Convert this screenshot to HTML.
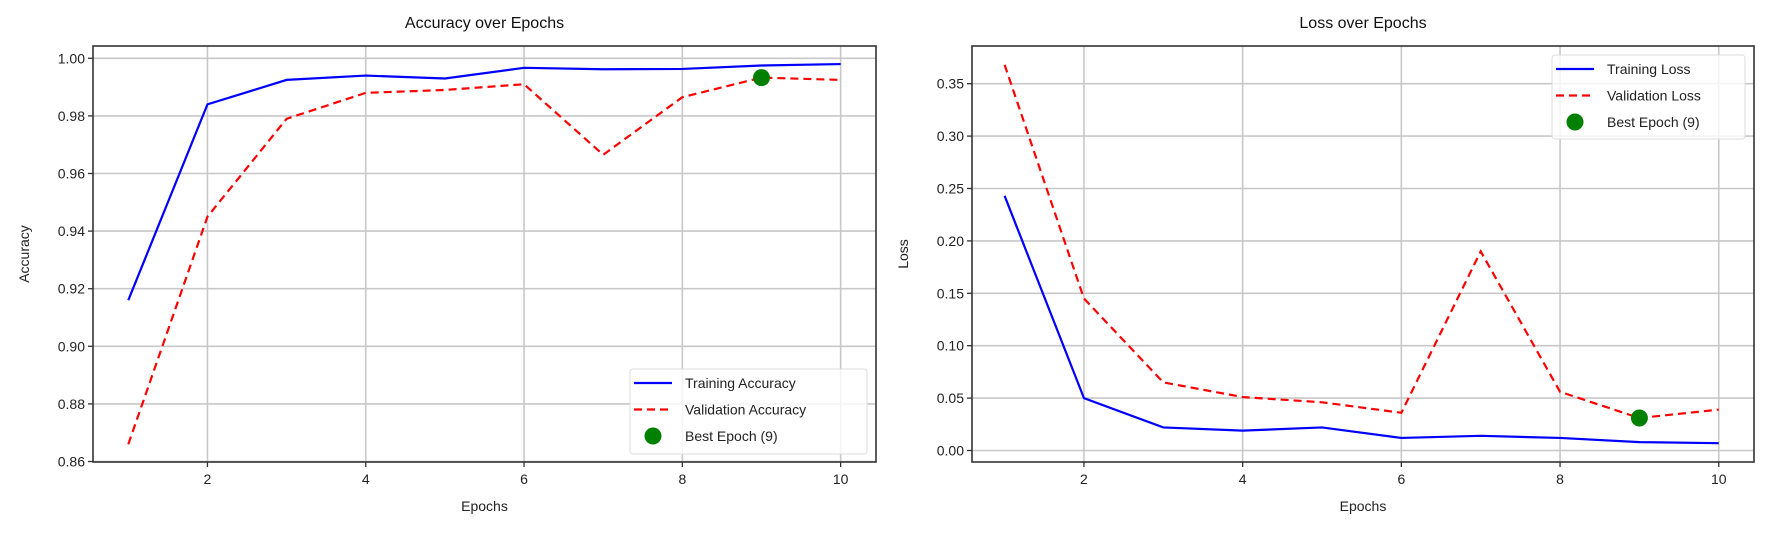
<!DOCTYPE html>
<html><head><meta charset="utf-8"><style>
html,body{margin:0;padding:0;background:#fff;width:1772px;height:534px;overflow:hidden}
svg{display:block;font-family:"Liberation Sans","DejaVu Sans",sans-serif}
</style></head><body>
<svg id="chart" width="1772" height="534" xmlns="http://www.w3.org/2000/svg"></svg>
<script>
const epochs = [1,2,3,4,5,6,7,8,9,10];
const trainAcc = [0.916,0.984,0.9925,0.994,0.993,0.9967,0.9962,0.9963,0.9975,0.998];
const valAcc = [0.866,0.945,0.979,0.988,0.989,0.991,0.9665,0.9865,0.9933,0.9925];
const trainLoss = [0.243,0.050,0.022,0.019,0.022,0.012,0.014,0.012,0.008,0.007];
const valLoss = [0.368,0.145,0.065,0.051,0.046,0.036,0.190,0.056,0.031,0.039];
const bestEpoch = 9;
const xTicks = [2,4,6,8,10];
const accTicks = [0.86,0.88,0.90,0.92,0.94,0.96,0.98,1.00];
const lossTicks = [0.00,0.05,0.10,0.15,0.20,0.25,0.30,0.35];

const svg = document.getElementById('chart');
const NS = 'http://www.w3.org/2000/svg';
function mk(tag, attrs, parent){const e=document.createElementNS(NS,tag);for(const k in attrs)e.setAttribute(k,attrs[k]);(parent||svg).appendChild(e);return e;}

function panel(cfg){
  const g = mk('g',{});
  
  
  const X = v => cfg.x1 + (v-1)*cfg.xs;
  const Y = v => cfg.y0 + (cfg.v0 - v)*cfg.ys;
  xTicks.forEach(t=>{
    const l = mk('line',{x1:X(t),x2:X(t),y1:cfg.top,y2:cfg.bot,stroke:'#c8c8c8','stroke-width':1.6},g);
    
    
  });
  cfg.yTicks.forEach(t=>{
    const l = mk('line',{x1:cfg.left,x2:cfg.right,y1:Y(t),y2:Y(t),stroke:'#c8c8c8','stroke-width':1.6},g);
    
    
  });
  const ptsT = epochs.map((e,i)=>X(e)+','+Y(cfg.train[i])).join(' ');
  const pt = mk('polyline',{points:ptsT,fill:'none',stroke:'#0000ff','stroke-width':2.2},g);
  
  
  const ptsV = epochs.map((e,i)=>X(e)+','+Y(cfg.val[i])).join(' ');
  const pv = mk('polyline',{points:ptsV,fill:'none',stroke:'#ff0000','stroke-width':2.2,'stroke-dasharray':'8,5'},g);
  
  
  const bi = epochs.indexOf(bestEpoch);
  const bm = mk('circle',{cx:X(bestEpoch),cy:Y(cfg.val[bi]),r:8.5,fill:'#008000'},g);
  
  
  const fr = mk('rect',{x:cfg.left,y:cfg.top,width:cfg.right-cfg.left,height:cfg.bot-cfg.top,fill:'none',stroke:'#333','stroke-width':1.6},g);
  
  
  xTicks.forEach(t=>{
    mk('line',{x1:X(t),x2:X(t),y1:cfg.bot,y2:cfg.bot+5,stroke:'#333','stroke-width':1.3},g);
    const tx = mk('text',{x:X(t),y:cfg.bot+22,'text-anchor':'middle','font-size':14,fill:'#222'},g);
    tx.textContent = t;
    
    
  });
  cfg.yTicks.forEach(t=>{
    mk('line',{x1:cfg.left-5,x2:cfg.left,y1:Y(t),y2:Y(t),stroke:'#333','stroke-width':1.3},g);
    const tx = mk('text',{x:cfg.left-8,y:Y(t)+5,'text-anchor':'end','font-size':14,fill:'#222'},g);
    tx.textContent = t.toFixed(2);
    
    
  });
  const ti = mk('text',{x:(cfg.left+cfg.right)/2,y:28,'text-anchor':'middle','font-size':16,fill:'#111'},g);
  ti.textContent = cfg.title;
  
  
  const xl = mk('text',{x:(cfg.left+cfg.right)/2,y:511,'text-anchor':'middle','font-size':14,fill:'#222'},g);
  xl.textContent = 'Epochs';
  
  
  const cy=(cfg.top+cfg.bot)/2;
  const yl = mk('text',{x:cfg.ylx,y:cy,'text-anchor':'middle','font-size':14,fill:'#222',transform:`rotate(-90 ${cfg.ylx} ${cy})`},g);
  yl.textContent = cfg.ylabel;
  
  
  const L = cfg.leg;
  const lg = mk('g',{},g);
  
  
  mk('rect',{x:L.x,y:L.y,width:L.w,height:L.h,rx:3,fill:'rgba(255,255,255,0.8)',stroke:'#ddd','stroke-width':1},lg);
  cfg.legLabels.forEach((lab,i)=>{
    const ry = L.y + 14 + i*26.5;
    if(i===0) mk('line',{x1:L.x+4,x2:L.x+42,y1:ry,y2:ry,stroke:'#0000ff','stroke-width':2.2},lg);
    if(i===1) mk('line',{x1:L.x+4,x2:L.x+42,y1:ry,y2:ry,stroke:'#ff0000','stroke-width':2.2,'stroke-dasharray':'8,5'},lg);
    if(i===2) mk('circle',{cx:L.x+23,cy:ry,r:8.5,fill:'#008000'},lg);
    const t = mk('text',{x:L.x+55,y:ry+5,'font-size':14,fill:'#222'},lg);
    t.textContent = lab;
    
    
  });
}

panel({name:'accuracy-chart',title:'Accuracy over Epochs',ylabel:'Accuracy',left:93,right:876,top:46,bot:462,
  x1:128.3,xs:79.15,y0:58.3,v0:1.0,ys:57.6/0.02,yTicks:accTicks,ylx:29,
  train:trainAcc,val:valAcc,
  leg:{x:630,y:369,w:237,h:85},legLabels:['Training Accuracy','Validation Accuracy','Best Epoch (9)']});
panel({name:'loss-chart',title:'Loss over Epochs',ylabel:'Loss',left:972,right:1754,top:46,bot:462,
  x1:1004.6,xs:79.35,y0:450.5,v0:0.0,ys:52.4/0.05,yTicks:lossTicks,ylx:908,
  train:trainLoss,val:valLoss,
  leg:{x:1552,y:55,w:193,h:84},legLabels:['Training Loss','Validation Loss','Best Epoch (9)']});
</script>
</body></html>
